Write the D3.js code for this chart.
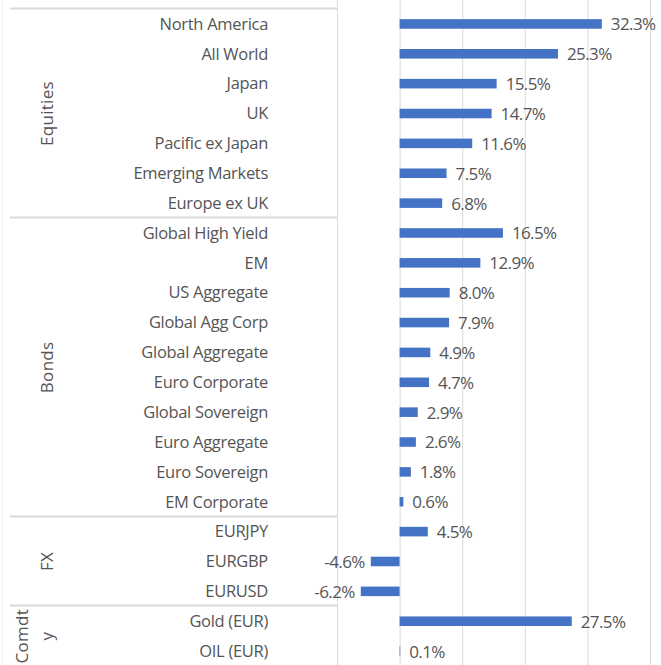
<!DOCTYPE html>
<html>
<head>
<meta charset="utf-8">
<script src="https://cdn.jsdelivr.net/npm/d3@7"></script>
<style>
  body { margin: 0; background: #fff; }
  text { font-family: "Open Sans", sans-serif; fill: #555; }
</style>
</head>
<body>
<div id="container"></div>
<script>
/* CONSTANTS AND GLOBALS */
const width = 661,
  height = 665,
  margin = { top: 9, bottom: -1, left: 337, right: 11 };

/* DATA */
const categories = [
  "North America", "All World", "Japan", "UK", "Pacific ex Japan", "Emerging Markets", "Europe ex UK",
  "Global High Yield", "EM", "US Aggregate", "Global Agg Corp", "Global Aggregate", "Euro Corporate",
  "Global Sovereign", "Euro Aggregate", "Euro Sovereign", "EM Corporate",
  "EURJPY", "EURGBP", "EURUSD",
  "Gold (EUR)", "OIL (EUR)"
];
const values = [32.3, 25.3, 15.5, 14.7, 11.6, 7.5, 6.8,
  16.5, 12.9, 8.0, 7.9, 4.9, 4.7, 2.9, 2.6, 1.8, 0.6,
  4.5, -4.6, -6.2,
  27.5, 0.1];
const groups = ["Equities", "Bonds", "FX", "Comdty"];
const groupSizes = [7, 10, 3, 2];
const groupLabelLines = [["Equities"], ["Bonds"], ["FX"], ["Comdt", "y"]];
const xTicks = [-10, 0, 10, 20, 30, 40];

const data = categories.map((c, i) => ({ category: c, value: values[i] }));

// SCALES
const xScale = d3.scaleLinear()
  .domain([-10, 40])
  .range([margin.left, width - margin.right]);

const yScale = d3.scaleBand()
  .domain(categories)
  .range([margin.top, height - margin.bottom])
  .paddingInner(0.68)
  .paddingOuter(0.34);

const step = yScale.step();

// CREATE SVG ELEMENT
const svg = d3.select("#container")
  .append("svg")
  .attr("width", width)
  .attr("height", height);

// faint outer border on the left
svg.append("line")
  .attr("x1", 2.5).attr("x2", 2.5)
  .attr("y1", 0).attr("y2", height)
  .attr("stroke", "#f0f0f0");

// GRIDLINES
svg.selectAll(".grid")
  .data(xTicks.filter(d => d !== -10))
  .join("line")
  .attr("class", "grid")
  .attr("x1", d => xScale(d) + 0.5)
  .attr("x2", d => xScale(d) + 0.5)
  .attr("y1", 0)
  .attr("y2", height)
  .attr("stroke", "#d9d9d9");

// category axis line
svg.append("line")
  .attr("x1", xScale(-10) + 0.5).attr("x2", xScale(-10) + 0.5)
  .attr("y1", 0).attr("y2", height)
  .attr("stroke", "#d9d9d9");

// GROUP SEPARATORS
let cum = 0;
const bounds = [0];
groupSizes.forEach(n => { cum += n; bounds.push(cum); });

svg.selectAll(".sep")
  .data(bounds.slice(0, bounds.length - 1))
  .join("line")
  .attr("class", "sep")
  .attr("x1", 10)
  .attr("x2", xScale(-10))
  .attr("y1", d => Math.round(margin.top + d * step) - 0.5)
  .attr("y2", d => Math.round(margin.top + d * step) - 0.5)
  .attr("stroke", "#d9d9d9")
  .attr("stroke-width", 2);

// GROUP LABELS (rotated)
groupLabelLines.forEach((lines, gi) => {
  const yMid = margin.top + (bounds[gi] + bounds[gi + 1]) / 2 * step;
  const x0 = lines.length > 1 ? 28 : 53;
  lines.forEach((ln, li) => {
    svg.append("text")
      .attr("transform", `translate(${x0 + li * 25}, ${yMid}) rotate(-90)`)
      .attr("text-anchor", "middle")
      .attr("font-size", 17)
      .attr("letter-spacing", 0.3)
      .text(ln);
  });
});

// CATEGORY LABELS
svg.selectAll(".cat")
  .data(data)
  .join("text")
  .attr("class", "cat")
  .attr("x", 268)
  .attr("y", d => yScale(d.category) + yScale.bandwidth() / 2)
  .attr("dy", "0.35em")
  .attr("text-anchor", "end")
  .attr("font-size", 16.5)
  .attr("letter-spacing", -0.3)
  .text(d => d.category);

// BARS
svg.selectAll(".bar")
  .data(data)
  .join("rect")
  .attr("class", "bar")
  .attr("x", d => xScale(Math.min(0, d.value)))
  .attr("width", d => Math.abs(xScale(d.value) - xScale(0)))
  .attr("y", d => yScale(d.category))
  .attr("height", yScale.bandwidth())
  .attr("fill", "#4472c4");

// VALUE LABELS
svg.selectAll(".val")
  .data(data)
  .join("text")
  .attr("class", "val")
  .attr("x", d => d.value >= 0 ? xScale(d.value) + 9 : xScale(d.value) - 6)
  .attr("y", d => yScale(d.category) + yScale.bandwidth() / 2)
  .attr("dy", "0.38em")
  .attr("text-anchor", d => d.value >= 0 ? "start" : "end")
  .attr("font-size", 17)
  .attr("letter-spacing", -0.6)
  .text(d => d.value.toFixed(1) + "%");
</script>
</body>
</html>
